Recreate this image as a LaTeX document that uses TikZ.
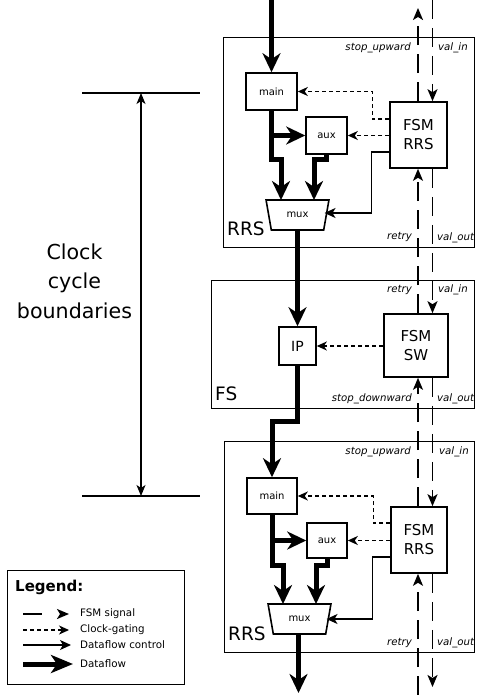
\documentclass[tikz,border=0pt]{standalone}
\usepackage{fontspec}
\setmainfont{DejaVu Sans}
\usetikzlibrary{arrows.meta,shapes.geometric,calc}
\begin{document}
\begin{tikzpicture}[x=1pt,y=-1pt,
  stage/.style={draw, line width=1.4pt, inner sep=0pt, anchor=north west},
  blk/.style={draw, line width=1.6pt, fill=white, inner sep=0pt, font=\fontsize{10}{12}\selectfont},
  fsmbox/.style={draw, line width=1.6pt, fill=white, inner sep=0pt, align=center, font=\fontsize{15}{19}\selectfont},
  muxbox/.style={draw, line width=1.6pt, fill=white, inner sep=0pt, shape=trapezium, shape border rotate=180,
     trapezium angle=69, trapezium stretches=true, minimum width=63pt, minimum height=30pt, font=\fontsize{10}{12}\selectfont},
  sig/.style={line width=1.8pt, dash pattern=on 19pt off 9pt, -{Stealth[length=12pt,width=10pt,inset=3pt]}},
  gate/.style={line width=1.4pt, dash pattern=on 4pt off 3pt, -{Stealth[length=10pt,width=9pt,inset=3pt]}},
  ctrl/.style={line width=1.3pt, -{Stealth[length=11pt,width=10pt,inset=3pt]}},
  flow/.style={line width=5pt, -{Stealth[length=19pt,width=18pt,inset=6pt]}},
  siglbl/.style={inner sep=0pt, font=\fontsize{10.2}{12}\selectfont\itshape},
  stlbl/.style={inner sep=0pt, anchor=base west, font=\fontsize{18.5}{20}\selectfont},
  leglbl/.style={inner sep=0pt, anchor=west, font=\fontsize{10.3}{12}\selectfont},
]
\useasboundingbox (0,0) rectangle (476,695);

% stage boxes
\node[stage, minimum width=251pt, minimum height=210pt] (rrsA) at (223,37) {};
\node[stage, minimum width=263pt, minimum height=128pt] (fs) at (211,280) {};
\node[stage, minimum width=250pt, minimum height=211pt] (rrsB) at (224,441) {};

\node[stlbl] (rrsAlbl) at (227,235) {RRS};
\node[stlbl] (fslbl) at (215,400) {FS};
\node[stlbl] (rrsBlbl) at (228,640) {RRS};

% top RRS
\node[blk, minimum width=51pt, minimum height=37pt] (main1) at (271.5,91.5) {main};
\node[blk, minimum width=41pt, minimum height=37pt] (aux1) at (326.5,135.5) {aux};
\node[fsmbox, minimum width=57pt, minimum height=66pt] (fsm1) at (418.5,135) {FSM\\RRS};
\node[muxbox] (mux1) at (297.5,215) {mux};

% FS
\node[blk, minimum width=37pt, minimum height=38pt, font=\fontsize{14}{16}\selectfont] (ip) at (297.5,346) {IP};
\node[fsmbox, minimum width=64pt, minimum height=63pt] (fsmsw) at (416,345.5) {FSM\\SW};

% bottom RRS
\node[blk, minimum width=50pt, minimum height=36pt] (main2) at (272,496) {main};
\node[blk, minimum width=40pt, minimum height=35pt] (aux2) at (327,540.5) {aux};
\node[fsmbox, minimum width=56pt, minimum height=66pt] (fsm2) at (419,540) {FSM\\RRS};
\node[muxbox] (mux2) at (299.5,619) {mux};

% dataflow
\coordinate (inA) at (271.5,0);
\draw[flow] (inA) -- (main1.north);
\draw[flow] (main1.south |- aux1.west) -- (aux1.west);
\draw[flow] (main1.south) |- ($(mux1.center)+(-16.5,-55)$) -- ($(mux1.center)+(-16.5,-15)$);
\draw[flow] (aux1.south) |- ($(mux1.center)+(16.5,-55)$) -- ($(mux1.center)+(16.5,-15)$);
\draw[flow] ($(mux1.center)+(0,15)$) -- (ip.north);
\draw[flow] (ip.south) |- ($(main2.north)+(0,-56)$) -- (main2.north);
\draw[flow] (main2.south |- aux2.west) -- (aux2.west);
\draw[flow] (main2.south) |- ($(mux2.center)+(-16.5,-54)$) -- ($(mux2.center)+(-16.5,-15)$);
\draw[flow] (aux2.south) |- ($(mux2.center)+(16.5,-54)$) -- ($(mux2.center)+(16.5,-15)$);
\coordinate (outB) at (298.5,693);
\draw[flow] ($(mux2.center)+(-1,15)$) -- (outB);

% clock gating
\draw[gate] ($(fsm1.west)+(0,-16)$) -- ++(-17,0) |- (main1.east);
\draw[gate] (fsm1.west |- aux1.east) -- (aux1.east);
\draw[gate] (fsmsw.west |- ip.east) -- (ip.east);
\draw[gate] ($(fsm2.west)+(0,-17)$) -- ++(-17,0) |- (main2.east);
\draw[gate] (fsm2.west |- aux2.east) -- (aux2.east);

% dataflow control
\draw[ctrl] ($(fsm1.west)+(0,17)$) -- ++(-18,0) |- ($(mux1.center)+(27,-2)$);
\draw[ctrl] ($(fsm2.west)+(0,17)$) -- ++(-18,0) |- ($(mux2.center)+(27,0)$);

% FSM signals
\coordinate (Lx) at (418,0);
\coordinate (Rx) at (432.5,0);
\coordinate (stopOut) at (418,8);
\coordinate (valIn) at (432.5,0);
\coordinate (retryIn) at (418,695);
\coordinate (valOut) at (432.5,687);
\draw[sig] (fsm1.north -| stopOut) -- (stopOut);
\draw[sig] (valIn) -- (fsm1.north -| valIn);
\draw[sig] (fsmsw.north -| Lx) -- (fsm1.south -| Lx);
\draw[sig] (fsm1.south -| Rx) -- (fsmsw.north -| Rx);
\draw[sig] (fsm2.north -| Lx) -- (fsmsw.south -| Lx);
\draw[sig] (fsmsw.south -| Rx) -- (fsm2.north -| Rx);
\draw[sig] (retryIn) -- (fsm2.south -| retryIn);
\draw[sig] (fsm2.south -| valOut) -- (valOut);

% signal labels
\node[siglbl, anchor=east] (l1) at (411,48) {stop\_upward};
\node[siglbl, anchor=west] (l2) at (438,48) {val\_in};
\node[siglbl, anchor=east] (l3) at (412,237) {retry};
\node[siglbl, anchor=west] (l4) at (437,238) {val\_out};
\node[siglbl, anchor=east] (l5) at (412,290) {retry};
\node[siglbl, anchor=west] (l6) at (438,290) {val\_in};
\node[siglbl, anchor=east] (l7) at (412,399) {stop\_downward};
\node[siglbl, anchor=west] (l8) at (437,399) {val\_out};
\node[siglbl, anchor=east] (l9) at (411,452) {stop\_upward};
\node[siglbl, anchor=west] (l10) at (439,452) {val\_in};
\node[siglbl, anchor=east] (l11) at (412,643) {retry};
\node[siglbl, anchor=west] (l12) at (437,643) {val\_out};

% clock cycle boundaries
\coordinate (bTopL) at (82,93);
\coordinate (bTopR) at (200,93);
\coordinate (bBotL) at (82,496);
\coordinate (bBotR) at (200,496);
\coordinate (cTop) at (141,93);
\coordinate (cBot) at (141,496);
\draw[line width=1.5pt] (bTopL) -- (bTopR);
\draw[line width=1.5pt] (bBotL) -- (bBotR);
\draw[line width=1.3pt, {Stealth[length=11pt,width=9pt,inset=3pt]}-{Stealth[length=11pt,width=9pt,inset=3pt]}] (cTop) -- (cBot);
\node[align=center, inner sep=0pt, font=\fontsize{20.6}{29.5}\selectfont] (cclbl) at (74.5,281) {Clock\\cycle\\boundaries};

% legend
\node[draw, line width=1.3pt, minimum width=177pt, minimum height=114pt, anchor=north west, inner sep=0pt] (legend) at (7,570) {};
\node[inner sep=0pt, anchor=west, font=\fontsize{15}{17}\selectfont\bfseries] (legtitle) at (15,587) {Legend:};
\coordinate (a1) at (23,614); \coordinate (b1) at (69,614);
\coordinate (a2) at (23,630); \coordinate (b2) at (69,630);
\coordinate (a3) at (23,645); \coordinate (b3) at (71,645);
\coordinate (a4) at (23,664); \coordinate (b4) at (73,664);
\draw[sig, dash pattern=on 19pt off 30pt] (a1) -- (b1);
\draw[gate] (a2) -- (b2);
\draw[ctrl] (a3) -- (b3);
\draw[line width=5pt, -{Stealth[length=22pt,width=18pt,inset=6pt]}] (a4) -- (b4);
\node[leglbl] (t1) at (80,614) {FSM signal};
\node[leglbl] (t2) at (80,630) {Clock-gating};
\node[leglbl] (t3) at (80,645) {Dataflow control};
\node[leglbl] (t4) at (80,664) {Dataflow};
\end{tikzpicture}
\end{document}
